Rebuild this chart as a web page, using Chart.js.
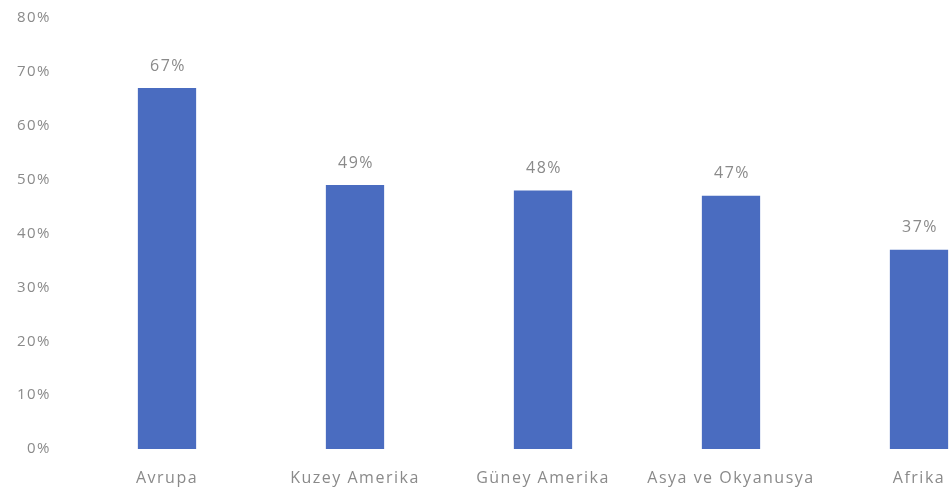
<!DOCTYPE html>
<html>
<head>
<meta charset="utf-8">
<script src="https://cdn.jsdelivr.net/npm/chart.js@4"></script>
<style>
  html, body { margin: 0; padding: 0; background: #fff; overflow: hidden; }
  #wrap { width: 1013px; height: 495px; }
</style>
</head>
<body>
<div id="wrap"><canvas id="barChart"></canvas></div>
<script>
// Regions and share values (%)
const regions = ['Avrupa', 'Kuzey Amerika', 'Güney Amerika', 'Asya ve Okyanusya', 'Afrika'];
const shares = [67, 49, 48, 47, 37];

// Y axis range (%)
const yMin = 0;
const yMax = 80;
const yStep = 10;

const textColor = '#8a8a8a';
const fontFamily = '"Open Sans", "Liberation Sans", sans-serif';

// Wider letter spacing for every text on the canvas
const spacedText = {
    id: 'spacedText',
    beforeDraw(chart) {
        chart.ctx.letterSpacing = '1.5px';
    }
};

// Writes the value above each bar
const valueLabels = {
    id: 'valueLabels',
    afterDatasetsDraw(chart) {
        const ctx = chart.ctx;
        const meta = chart.getDatasetMeta(0);
        ctx.save();
        ctx.font = '16px ' + fontFamily;
        ctx.fillStyle = textColor;
        ctx.textAlign = 'center';
        ctx.textBaseline = 'bottom';
        meta.data.forEach(function (bar, i) {
            ctx.fillText(shares[i] + '%', bar.x + 1, bar.y - 14);
        });
        ctx.restore();
    }
};

const barData = {
    labels: regions,
    datasets: [{
        data: shares,
        backgroundColor: '#4a6cc0',
        categoryPercentage: 1,
        barPercentage: 0.31
    }]
};

const barOptions = {
    type: 'bar',
    data: barData,
    plugins: [spacedText, valueLabels],
    options: {
        maintainAspectRatio: false,
        responsive: true,
        animation: false,
        layout: { padding: 0 },
        plugins: {
            legend: { display: false },
            tooltip: { enabled: false }
        },
        scales: {
            x: {
                grid: { display: false, drawTicks: false },
                border: { display: false },
                ticks: {
                    color: textColor,
                    font: { family: fontFamily, size: 16 },
                    padding: 20,
                    maxRotation: 0,
                    autoSkip: false
                },
                afterFit(scale) { scale.height = 46; }
            },
            y: {
                min: yMin,
                max: yMax,
                grid: { display: false, drawTicks: false },
                border: { display: false },
                ticks: {
                    stepSize: yStep,
                    color: textColor,
                    font: { family: fontFamily, size: 15 },
                    padding: 22,
                    callback: function (v) { return v + '%'; }
                },
                afterFit(scale) {
                    // fixed axis width and top gap so the plot area starts at x=73, y=18
                    scale.width = 73;
                    scale.paddingTop = 18;
                    scale.paddingBottom = 0;
                }
            }
        }
    }
};

document.addEventListener('DOMContentLoaded', function () {
    new Chart(document.getElementById('barChart'), barOptions);
});
</script>
</body>
</html>
